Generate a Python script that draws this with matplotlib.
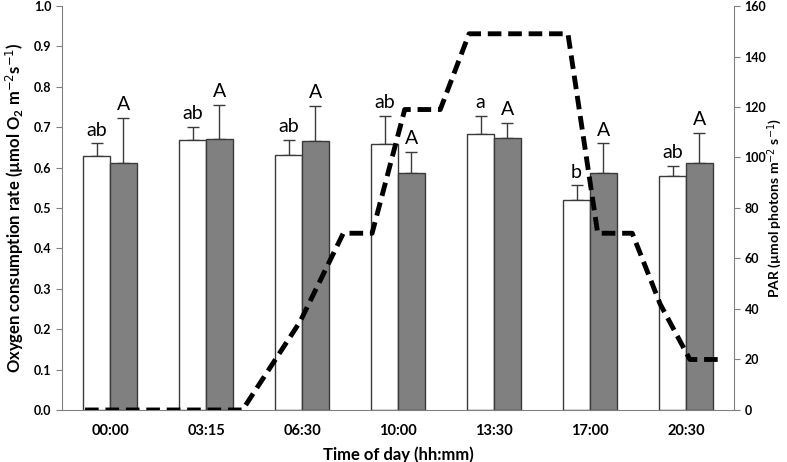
"""Oxygen consumption and PAR over the day"""

import numpy as np
import matplotlib.pyplot as plt

plt.rcParams['font.family'] = ['Lato', 'DejaVu Sans']
plt.rcParams['mathtext.default'] = 'regular'

times = ['00:00', '03:15', '06:30', '10:00', '13:30', '17:00', '20:30']

# white bars
white_mean = [0.629, 0.668, 0.630, 0.658, 0.682, 0.521, 0.580]
white_err = [0.031, 0.032, 0.038, 0.069, 0.045, 0.035, 0.025]
white_letters = ['ab', 'ab', 'ab', 'ab', 'a', 'b', 'ab']

# grey bars
grey_mean = [0.612, 0.671, 0.666, 0.587, 0.673, 0.587, 0.612]
grey_err = [0.110, 0.085, 0.087, 0.052, 0.038, 0.073, 0.074]
grey_letters = ['A', 'A', 'A', 'A', 'A', 'A', 'A']

# PAR light curve (x in category units)
par_x = [-0.26, 1.38, 1.98, 2.43, 2.73, 3.07, 3.44, 3.74, 4.77, 5.08, 5.44,
         5.73, 6.04, 6.375]
par_y = [0, 0, 35, 70, 70, 119, 119, 149, 149, 70, 70, 42, 20, 20]

fig = plt.figure(figsize=(7.87, 4.62), dpi=100)
ax = fig.add_axes([0.0788, 0.1126, 0.8539, 0.8744])

x = np.arange(len(times))
w = 0.28
edge = '#3a3a3a'

ax.bar(x - w / 2, white_mean, w, color='white', edgecolor=edge, linewidth=1,
       zorder=2)
ax.bar(x + w / 2, grey_mean, w, color='#808080', edgecolor=edge, linewidth=1,
       zorder=2)
ax.errorbar(x - w / 2, white_mean, yerr=[np.zeros(7), white_err], fmt='none',
            ecolor=edge, elinewidth=1, capsize=4, capthick=1, zorder=1)
ax.errorbar(x + w / 2, grey_mean, yerr=[np.zeros(7), grey_err], fmt='none',
            ecolor=edge, elinewidth=1, capsize=4, capthick=1, zorder=1)

for i in range(len(times)):
    ax.text(x[i] - w / 2, white_mean[i] + white_err[i] + 0.012,
            white_letters[i], ha='center', va='bottom', fontsize=14)
    ax.text(x[i] + w / 2, grey_mean[i] + grey_err[i] + 0.012,
            grey_letters[i], ha='center', va='bottom', fontsize=14)

ax.set_xlim(-0.5, 6.5)
ax.set_ylim(0, 1.0)
ax.set_yticks(np.arange(0, 1.01, 0.1))
ax.set_yticklabels(['%.1f' % v for v in np.arange(0, 1.01, 0.1)])
ax.set_xticks(x)
ax.set_xticklabels(times)
ax.tick_params(axis='x', length=0, pad=10, labelsize=10.5)
ax.tick_params(axis='y', length=4, color='#808080', labelsize=9)
for lab in ax.get_xticklabels() + ax.get_yticklabels():
    lab.set_fontweight('bold')
ax.spines['top'].set_visible(False)
ax.spines['right'].set_visible(False)
ax.spines['left'].set_color('#808080')
ax.spines['bottom'].set_color('#808080')
ax.set_xlabel('Time of day (hh:mm)', fontsize=12, fontweight='bold',
              labelpad=6)
ax.set_ylabel('Oxygen consumption rate (µmol O$_2$ m$^{\\mathrm{-2}}$s$^{\\mathrm{-1}}$)',
              fontsize=12, fontweight='bold', labelpad=6)

ax2 = ax.twinx()
ax2.plot(par_x, par_y, color='black', linewidth=3.5, linestyle=(0, (2.8, 1.4)))
ax2.set_ylim(0, 160)
ax2.set_yticks(np.arange(0, 161, 20))
ax2.tick_params(axis='y', length=4, color='#808080', labelsize=9)
for lab in ax2.get_yticklabels():
    lab.set_fontweight('bold')
ax2.spines['top'].set_visible(False)
ax2.spines['left'].set_visible(False)
ax2.spines['bottom'].set_visible(False)
ax2.spines['right'].set_color('#808080')
ax2.set_ylabel('PAR (µmol photons m$^{\\mathrm{-2}}$ s$^{\\mathrm{-1}}$)',
               fontsize=10, fontweight='bold')
ax2.yaxis.set_label_coords(1.047, 0.5)

fig.savefig('out.png', dpi=100)
